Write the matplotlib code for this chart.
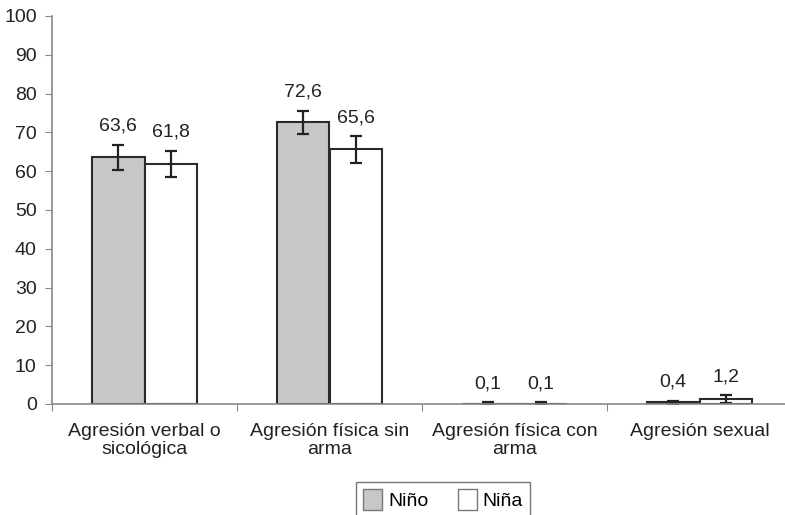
import matplotlib
matplotlib.use("Agg")
import matplotlib.pyplot as plt
import numpy as np

plt.rcParams['font.family'] = ['Liberation Sans', 'DejaVu Sans']

categories = ["Agresión verbal o\nsicológica", "Agresión física sin\narma",
              "Agresión física con\narma", "Agresión sexual"]
nino = [63.6, 72.6, 0.1, 0.4]
nina = [61.8, 65.6, 0.1, 1.2]
nino_err = [3.2, 3.0, 0.3, 0.5]
nina_err = [3.4, 3.4, 0.3, 1.0]
yticks = list(range(0, 101, 10))

FS = 14
fig = plt.figure(figsize=(7.85, 5.15), dpi=100)
# axes spans slightly past the right edge of the figure
ax = fig.add_axes([52/785, 1 - 404/515, 740/785, 388/515])

x = np.arange(len(categories))
w = 0.285
edge = "#2a2a2a"
err_kw = dict(ecolor="#222222", elinewidth=1.6, capsize=4, capthick=1.6)
ax.bar(x - w/2, nino, w, yerr=nino_err, color="#c6c7c9", edgecolor=edge,
       linewidth=1.5, label="Niño", error_kw=err_kw, zorder=2)
ax.bar(x + w/2, nina, w, yerr=nina_err, color="white", edgecolor=edge,
       linewidth=1.5, label="Niña", error_kw=err_kw, zorder=2)

for xs, vals, errs in ((x - w/2, nino, nino_err), (x + w/2, nina, nina_err)):
    for xi, v, e in zip(xs, vals, errs):
        ax.text(xi, v + e + 2.6, f"{v:.1f}".replace(".", ","), ha="center",
                va="bottom", fontsize=FS, color="#222222")

ax.set_xlim(-0.5, len(categories) - 0.5)
ax.set_ylim(0, 100)
ax.set_yticks(yticks)
ax.set_yticklabels([str(t) for t in yticks], fontsize=FS, color="#222222")

ax.set_xticks(np.arange(len(categories) + 1) - 0.5)
ax.set_xticklabels([])
ax.set_xticks(x, minor=True)
ax.set_xticklabels(categories, minor=True, fontsize=FS, color="#222222",
                   linespacing=1.05)
ax.tick_params(axis="x", which="minor", length=0, pad=14)
ax.tick_params(axis="x", which="major", length=5, color="#888888", direction="out")
ax.tick_params(axis="y", length=5, color="#888888", direction="out", pad=6)

for s in ["top", "right"]:
    ax.spines[s].set_visible(False)
for s in ["left", "bottom"]:
    ax.spines[s].set_color("#888888")
    ax.spines[s].set_linewidth(1.2)

leg = fig.legend(loc="lower center", bbox_to_anchor=(443/785, -0.022), ncol=2,
                 fontsize=FS, frameon=True, fancybox=False, handlelength=1.0,
                 handleheight=1.25, handletextpad=0.3, columnspacing=1.5,
                 borderpad=0.35)
leg.get_frame().set_edgecolor("#555555")
leg.get_frame().set_linewidth(1.0)
for h in leg.legend_handles:
    h.set_edgecolor("#777777")
    h.set_linewidth(1.0)

fig.savefig("out.png", dpi=100)
